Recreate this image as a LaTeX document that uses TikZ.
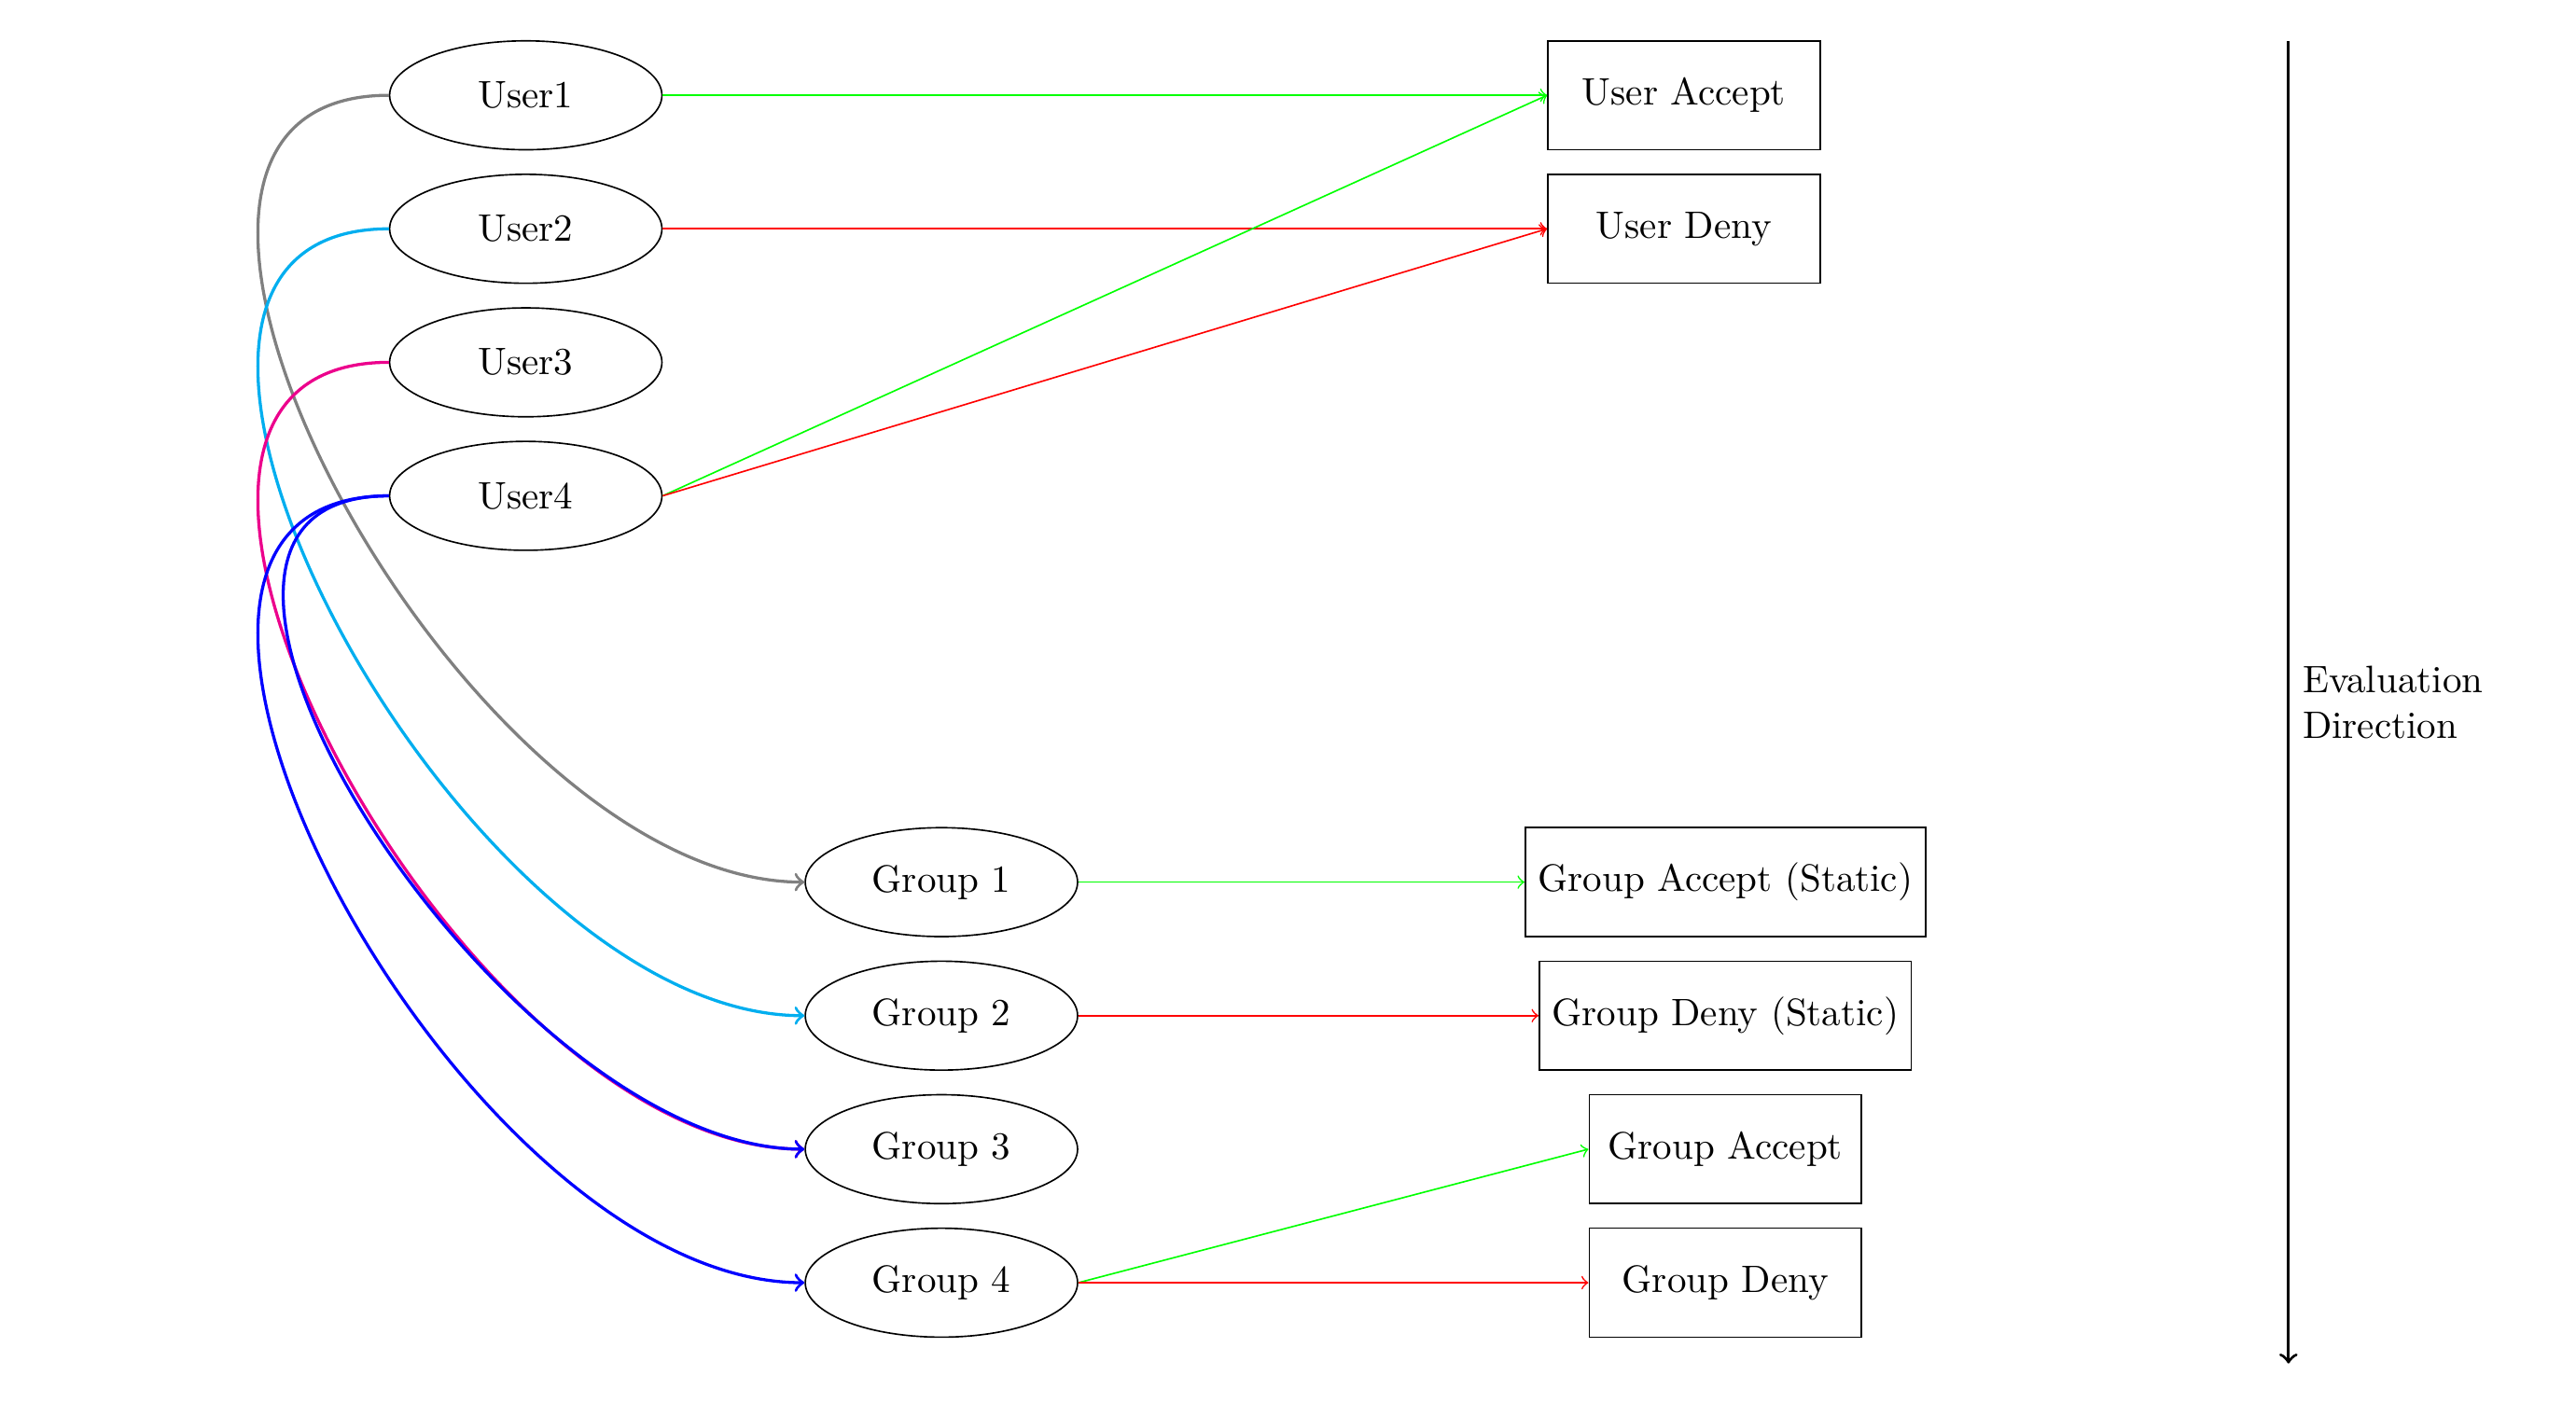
\documentclass[tikz,border=0pt]{standalone}
\usetikzlibrary{shapes.geometric}
\definecolor{cyanc}{RGB}{0,174,239}
\definecolor{magc}{RGB}{236,0,140}
\begin{document}
\begin{tikzpicture}[
  usernode/.style={ellipse, draw, minimum width=2.5cm, minimum height=1cm},
  boxnode/.style={rectangle, draw, minimum width=2.5cm, minimum height=1cm},
  curve/.style={thick, ->},
  acc/.style={->, green},
  den/.style={->, red}
]
\useasboundingbox (0,0) rectangle (23.65,-12.88);
\node[usernode] (u1) at (4.827,-0.875) {User1};
\node[usernode] (u2) at (4.827,-2.101) {User2};
\node[usernode] (u3) at (4.827,-3.327) {User3};
\node[usernode] (u4) at (4.827,-4.553) {User4};
\node[usernode] (g1) at (8.643,-8.100) {Group 1};
\node[usernode] (g2) at (8.643,-9.326) {Group 2};
\node[usernode] (g3) at (8.643,-10.552) {Group 3};
\node[usernode] (g4) at (8.643,-11.778) {Group 4};
\node[boxnode] (ua) at (15.46,-0.875) {User Accept};
\node[boxnode] (ud) at (15.46,-2.101) {User Deny};
\node[boxnode] (gas) at (15.84,-8.100) {Group Accept (Static)};
\node[boxnode] (gds) at (15.84,-9.326) {Group Deny (Static)};
\node[boxnode] (ga) at (15.84,-10.552) {Group Accept};
\node[boxnode] (gd) at (15.84,-11.778) {Group Deny};
\coordinate (etop) at (21.01,-0.377);
\coordinate (ebot) at (21.01,-12.52);
\draw[thick,->] (etop) -- node[right, align=left] {Evaluation\\Direction} (ebot);
\draw[acc] (u1.east) -- (ua.west);
\draw[den] (u2.east) -- (ud.west);
\draw[acc] (u4.east) -- (ua.west);
\draw[den] (u4.east) -- (ud.west);
\draw[acc] (g1.east) -- (gas.west);
\draw[den] (g2.east) -- (gds.west);
\draw[acc] (g4.east) -- (ga.west);
\draw[den] (g4.east) -- (gd.west);
\draw[curve, gray] (u1.west) to[out=180,in=180] (g1.west);
\draw[curve, cyanc] (u2.west) to[out=180,in=180] (g2.west);
\draw[curve, magc] (u3.west) to[out=180,in=180] (g3.west);
\draw[curve, blue] (u4.west) to[out=180,in=180] (g3.west);
\draw[curve, blue] (u4.west) to[out=180,in=180] (g4.west);
\end{tikzpicture}
\end{document}
